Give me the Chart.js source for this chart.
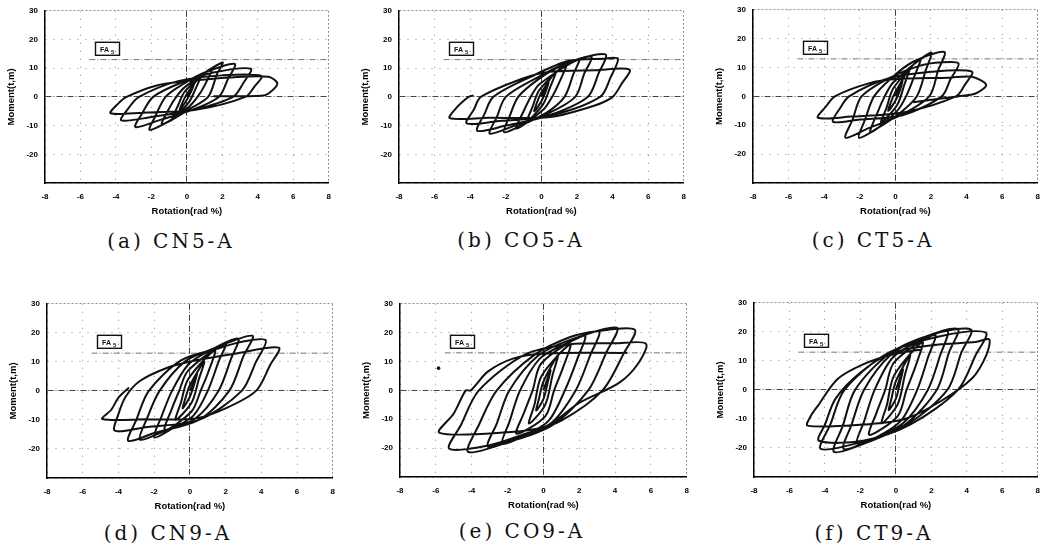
<!DOCTYPE html>
<html>
<head>
<meta charset="utf-8">
<script src="https://cdn.jsdelivr.net/npm/chart.js@4.4.1/dist/chart.umd.min.js"></script>
<style>
  body { margin: 0; background: #fff; }
  #page { position: relative; width: 1050px; height: 556px; overflow: hidden; }
  .panel { position: absolute; }
  .caption {
    position: absolute; font-family: "DejaVu Serif", serif; font-size: 20px;
    letter-spacing: 3px; color: #111; white-space: nowrap; transform: translate(-50%, -50%);
  }
</style>
</head>
<body>
<div id="page"></div>
<script>
// rotation (rad %), moment (t.m)
const cn5a = [
  [0,0],[0.4,4.5],[0.25,2],[0,-1],[-0.4,-4.5],[-0.25,-2],[0,1],
  [0.8,7.5],[0.5,3],[0.1,-2],[-0.8,-7.5],[-0.5,-3],[-0.1,2],
  [1.4,10],[1.0,4],[0.6,0],[0.1,-3.5],[-1.4,-9.5],[-1.0,-4],[-0.6,0],[-0.1,3.5],
  [2.0,12],[1.7,8],[1.2,0],[0.2,-4],[-1.0,-8.5],[-2.1,-11.5],[-1.8,-7],[-1.2,0],[-0.2,4.5],[1.0,8.5],
  [2.7,11.5],[2.3,6],[1.8,0],[0.3,-4.5],[-1.5,-8],[-2.9,-10.5],[-2.5,-5.5],[-1.9,0],[-0.3,5],[1.5,8.5],
  [3.6,9.8],[3.2,5],[2.6,0],[0.4,-4.5],[-2.0,-7],[-3.7,-8.2],[-3.3,-4],[-2.7,0],[-0.5,5.5],[2.0,7.5],
  [4.2,7.3],[3.8,3.5],[3.3,0],[0.5,-4.5],[-2.5,-5.5],[-4.3,-5.7],[-3.9,-2.5],[-3.4,0],[-1.7,4],[0,5.5],[2.5,6.8],
  [4.6,7.0],[5.1,4.6],[4.6,1.2],[4.2,0.4],[1.5,0.2]
];
const co5a = [
  [0,0],[0.4,5],[0.25,2],[0,-1.5],[-0.4,-5],[-0.25,-2],[0,1.5],
  [0.8,8.5],[0.5,3.5],[0.1,-2.5],[-0.8,-8.5],[-0.5,-3.5],[-0.1,2.5],
  [1.4,11.5],[1.0,5],[0.6,0],[0.1,-4.5],[-1.4,-11],[-1.0,-5],[-0.6,0],[-0.1,4.5],
  [2.1,13],[1.8,8],[1.3,0],[0.3,-5.5],[-1.0,-9.5],[-2.1,-12.3],[-1.8,-7],[-1.3,0],[-0.2,6],[1.0,10.5],
  [2.8,14],[2.4,8],[1.9,0],[0.3,-6],[-1.5,-10],[-2.9,-12.8],[-2.5,-7],[-2.0,0],[-0.3,6.5],[1.5,12],
  [3.6,14.8],[3.2,8],[2.6,0],[0.4,-6.5],[-2.0,-10],[-3.6,-11.8],[-3.2,-6],[-2.7,0],[-0.6,7],[1.5,12.5],[3.5,13.3],
  [4.3,13.3],[3.9,7],[3.3,0],[0.5,-6.5],[-2.5,-8.5],[-4.2,-9.2],[-3.8,-4.5],[-3.4,0],[-1.0,6.5],[0.5,8.8],[3.0,9.3],
  [4.95,9.5],[4.5,4.5],[4.0,0],[3.0,-3],[0.5,-7],[-3.0,-7.3],[-5.15,-7.4],[-4.8,-4],[-4.3,-1],[-4.0,0.3],[-3.8,0.4]
];
const ct5a = [
  [0,0],[0.4,5.5],[0.25,2],[0,-1.5],[-0.4,-5],[-0.25,-2],[0,1.5],
  [0.8,9.5],[0.5,4],[0.1,-3],[-0.8,-9],[-0.5,-4],[-0.1,3],
  [1.4,13],[1.0,6],[0.6,0],[0.1,-5],[-1.4,-12.5],[-1.0,-5.5],[-0.6,0],[-0.1,5],
  [2.0,15.2],[1.7,9],[1.2,0],[0.2,-6],[-1.0,-11],[-2.05,-14.3],[-1.7,-8],[-1.2,0],[-0.2,6.5],[1.0,12],
  [2.75,15.4],[2.4,9],[1.9,0],[0.3,-6.5],[-1.5,-11],[-2.8,-14.3],[-2.4,-8],[-1.9,0],[-0.3,6.5],[1.3,10.5],[2.6,11.8],
  [3.55,11.4],[3.1,6],[2.6,0],[0.4,-6.5],[-2.0,-8],[-3.5,-8.8],[-3.1,-4],[-2.6,0],[-0.5,6],[2.0,8.5],
  [4.3,8.6],[3.9,4],[3.4,0],[0.5,-5.5],[-2.5,-7],[-4.35,-7.4],[-3.9,-3.5],[-3.4,0],[-1.5,4.5],[0,6],[3.0,6.5],
  [4.3,6.8],[5.1,4],[4.5,1],[3.5,0],[1.0,-2]
];
const cn9a = [
  [0,0],[0.4,6],[0.25,2.5],[0,-2],[-0.4,-6],[-0.25,-2.5],[0,2],
  [0.8,10],[0.5,4],[0.1,-4],[-0.8,-10],[-0.5,-4],[-0.1,4],
  [1.4,14],[1.0,6],[0.6,0],[0.1,-7],[-1.4,-13.5],[-1.0,-6],[-0.6,0],[-0.1,7],
  [2.0,16.5],[1.6,10],[1.0,0],[0.2,-8.5],[-1.0,-13],[-2.0,-16],[-1.6,-9],[-1.0,0],[-0.1,9],[1.0,13.5],
  [2.7,18],[2.3,11],[1.6,0],[0.3,-9.5],[-1.5,-14],[-2.8,-16.8],[-2.4,-9.5],[-1.7,0],[-0.3,10],[1.3,14.5],
  [3.5,19],[3.0,12],[2.2,0],[0.5,-10],[-2.0,-14.5],[-3.45,-17.2],[-3.0,-10],[-2.3,0],[-0.5,10.5],[1.5,14.5],[3.0,17],
  [4.25,17.4],[3.7,10],[2.9,0],[0.5,-10],[-2.5,-12.5],[-4.2,-13.7],[-4.0,-8],[-3.6,-2],[-2.8,3.4],[-1.3,7.9],[0.1,10.2],[2.5,12.8],
  [4.98,14.9],[4.5,9],[3.7,0],[2.0,-6],[0.3,-9.5],[-2.5,-9.8],[-4.9,-9.7],[-4.4,-6.5],[-4.0,-2.3],[-3.45,0.9],[-3.4,1.0]
];
const co9a = [
  [0,0],[0.4,7],[0.25,3],[0,-3],[-0.4,-7],[-0.25,-3],[0,3],
  [0.8,12],[0.5,5],[0.1,-5],[-0.8,-11.5],[-0.5,-5],[-0.1,5],
  [1.5,16],[1.1,8],[0.6,0],[0.1,-9],[-1.5,-15],[-1.1,-8],[-0.6,0],[-0.1,9.5],
  [2.3,19],[1.9,11],[1.2,0],[0.3,-10.5],[-1.0,-15.5],[-2.3,-18.5],[-1.9,-11],[-1.3,0],[-0.2,11],[1.2,16],
  [3.1,20.5],[2.6,12],[1.8,0],[0.4,-11.5],[-1.5,-16.5],[-3.1,-19.5],[-2.6,-11.5],[-1.9,0],[-0.3,12],[1.5,17.5],
  [4.1,21.7],[3.5,13],[2.5,0],[0.5,-12],[-2.0,-18],[-4.2,-21.3],[-3.6,-12],[-2.6,0],[-0.5,12.3],[1.5,18.5],[3.0,20.5],
  [5.1,21],[4.5,13],[3.3,0],[1.0,-10.5],[-1.0,-15],[-3.0,-19],[-5.25,-20.2],[-4.6,-12],[-3.6,0],[-1.0,12.5],[1.5,16],[4.0,16.3],
  [5.72,16.2],[5.3,9.4],[4.2,2.5],[2.0,-4.3],[0.15,-12.4],[-2.0,-14.5],[-5.8,-14.7],[-5.0,-8],[-4.33,0],[-4.06,0],[-3.1,6.5],[-1.7,11],[0,12.8],[4.7,13]
];
const ct9a = [
  [0,0],[0.4,7],[0.25,3],[0,-3],[-0.4,-7],[-0.25,-3],[0,3],
  [0.8,12],[0.5,5],[0.1,-5],[-0.8,-11.5],[-0.5,-5],[-0.1,5],
  [1.5,16.5],[1.1,8],[0.6,0],[0.1,-9],[-1.5,-15.5],[-1.1,-8],[-0.6,0],[-0.1,9.5],
  [2.2,19],[1.8,11],[1.2,0],[0.3,-10.5],[-1.0,-16],[-2.2,-18.5],[-1.8,-11],[-1.2,0],[-0.2,11],[1.2,16.5],
  [2.9,20.3],[2.5,12],[1.8,0],[0.4,-11.5],[-1.5,-17.5],[-2.95,-20.3],[-2.5,-12],[-1.8,0],[-0.3,12],[1.5,18],
  [3.5,21],[3.0,13],[2.3,0],[0.5,-12],[-2.0,-19],[-3.5,-21.3],[-3.0,-12.5],[-2.3,0],[-0.4,12.3],[2.0,19],
  [4.24,20.8],[3.7,13],[2.9,0],[0.6,-12],[-2.0,-18],[-4.24,-20.3],[-3.7,-12],[-2.9,0],[-0.5,12.5],[2.5,18.5],
  [5.07,19.7],[4.5,12],[3.5,0],[0.8,-12],[-1.85,-17.5],[-4.34,-17.5],[-4.0,-12],[-3.4,-3],[-2.0,6],[-0.3,12.5],[2.2,15.5],[4.5,16.5],
  [5.26,17.4],[5.1,12],[4.3,4],[2.5,-4],[0.5,-10],[-2.0,-12],[-4.98,-12.3],[-4.8,-9],[-4.4,-5.5],[-3.3,3.7],[-1.85,8.8],[-0.18,12.2],[1.5,14]
];
const co9aDot = [[-5.85, 7.7]];

const captions = ['(a) CN5-A', '(b) CO5-A', '(c) CT5-A', '(d) CN9-A', '(e) CO9-A', '(f) CT9-A'];
const xTickValues = [-8, -6, -4, -2, 0, 2, 4, 6, 8];
const yTickValues = [-30, -20, -10, 0, 10, 20, 30];
const yieldLine = [[-5.5, 13], [8, 13]];

// plot boxes [left, top, right, bottom] and caption centres, in page pixels
const panels = [
  { data: cn5a, box: [45, 9, 334, 183], cap: [171, 241] },
  { data: co5a, box: [399, 9, 689, 183], cap: [521, 240] },
  { data: ct5a, box: [753, 8, 1043, 183], cap: [873, 240] },
  { data: cn9a, box: [47, 302, 338, 478], cap: [168, 533] },
  { data: co9a, box: [400, 302, 692, 477], cap: [522, 531], dot: co9aDot },
  { data: ct9a, box: [754, 301, 1043, 477], cap: [874, 533] }
];

const pts = arr => arr.map(p => ({ x: p[0], y: p[1] }));

const gridColor = c => {
  if (!c.tick) return '#888';
  return c.tick.value === 0 ? '#444' : '#8c8c8c';
};
const gridDash = c => {
  if (c.type !== 'tick') return [];
  if (c.tick.value === 0) return [6, 2, 1, 2];
  if (c.tick.value === c.scale.max) return [2, 2];
  return [1, 7];
};

const boxLabel = {
  id: 'boxLabel',
  afterDraw(chart) {
    const a = chart.chartArea, ctx = chart.ctx;
    ctx.save();
    ctx.strokeStyle = '#111';
    ctx.lineWidth = 1.4;
    ctx.strokeRect(a.left + 50.5, a.top + 31.5, 24, 13);
    ctx.fillStyle = '#111';
    ctx.textBaseline = 'alphabetic';
    ctx.font = 'bold 7px "Liberation Sans"';
    ctx.fillText('FA', a.left + 55, a.top + 41);
    ctx.font = 'bold 6px "Liberation Sans"';
    ctx.fillText('5', a.left + 66, a.top + 43);
    ctx.restore();
  }
};

const page = document.getElementById('page');
const tickFont = { family: 'Liberation Sans', size: 8, weight: 'bold' };
const titleFont = { family: 'Liberation Sans', size: 9.5, weight: 'bold' };

panels.forEach((p, i) => {
  const [L, T, R, B] = p.box;
  const w = R - L + 45 + 6, h = B - T + 10 + 36;
  const cv = document.createElement('canvas');
  cv.className = 'panel';
  cv.width = w; cv.height = h;
  cv.style.left = (L - 45) + 'px';
  cv.style.top = (T - 10) + 'px';
  cv.style.width = w + 'px';
  cv.style.height = h + 'px';
  page.appendChild(cv);

  const cap = document.createElement('div');
  cap.className = 'caption';
  cap.textContent = captions[i];
  cap.style.left = p.cap[0] + 'px';
  cap.style.top = p.cap[1] + 'px';
  page.appendChild(cap);

  const datasets = [
    { data: pts(p.data), showLine: true, borderColor: '#111', borderWidth: 2,
      tension: 0.3, pointRadius: 0, fill: false },
    { data: pts(yieldLine), showLine: true, borderColor: '#777', borderWidth: 1,
      borderDash: [6, 2, 1, 2], pointRadius: 0, tension: 0 }
  ];
  if (p.dot) {
    datasets.push({ data: pts(p.dot), showLine: false, pointRadius: 1.8,
      pointBackgroundColor: '#111', pointBorderWidth: 0 });
  }

  new Chart(cv, {
    type: 'scatter',
    data: { datasets: datasets },
    options: {
      responsive: false,
      animation: false,
      devicePixelRatio: 1,
      layout: { padding: { top: 10, right: 6, left: 0, bottom: 0 } },
      plugins: { legend: { display: false }, tooltip: { enabled: false } },
      scales: {
        x: {
          type: 'linear', min: -8, max: 8,
          afterBuildTicks: s => { s.ticks = xTickValues.map(v => ({ value: v })); },
          afterFit: s => { s.height = 36; },
          ticks: { font: tickFont, color: '#000', padding: 9, maxRotation: 0, autoSkip: false },
          grid: { color: gridColor, lineWidth: 1, drawTicks: false },
          border: { color: '#000', width: 1.5, dash: gridDash },
          title: { display: true, text: 'Rotation(rad %)', font: titleFont, color: '#000',
                   padding: { top: 0, bottom: 2 } }
        },
        y: {
          type: 'linear', min: -30, max: 30,
          afterBuildTicks: s => { s.ticks = yTickValues.map(v => ({ value: v })); },
          afterFit: s => { s.width = 45; },
          ticks: { font: tickFont, color: '#000', padding: 7,
                   callback: v => (v === -30 ? '' : v) },
          grid: { color: gridColor, lineWidth: 1, drawTicks: false },
          border: { color: '#000', width: 1.5, dash: gridDash },
          title: { display: true, text: 'Moment(t,m)', font: titleFont, color: '#000',
                   padding: { top: 6, bottom: 0 } }
        }
      }
    },
    plugins: [boxLabel]
  });
});
</script>
</body>
</html>
